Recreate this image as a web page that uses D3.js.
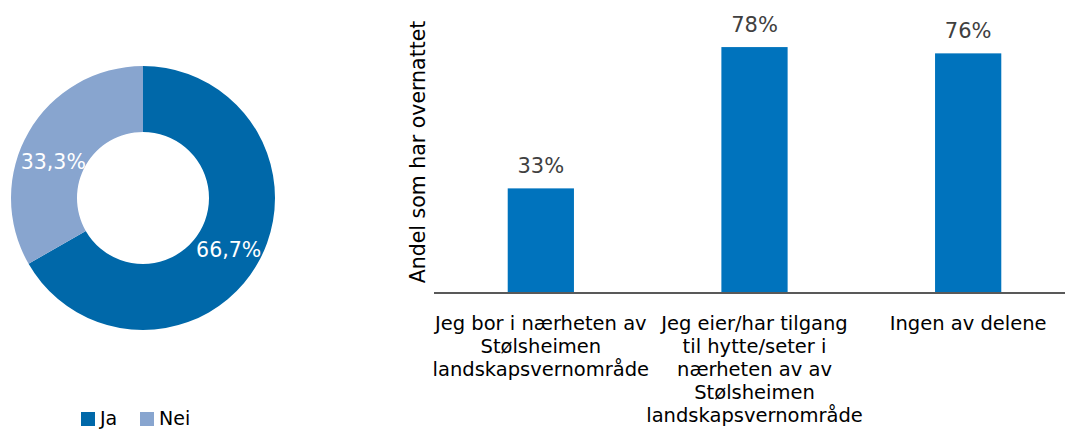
<!DOCTYPE html>
<html>
<head>
<meta charset="utf-8">
<script src="https://cdn.jsdelivr.net/npm/d3@7"></script>
<style>
  body { margin: 0; background: #fff; }
  svg { display: block; font-family: "DejaVu Sans", sans-serif; }
</style>
</head>
<body>
<svg id="chart" width="1065" height="432"></svg>
<script>
// donut data
const pieLabels = ["Ja", "Nei"];
const pieValues = [66.7, 33.3];
const pieColors = ["#0068a9", "#88a5cf"];

// bar data
const barCategories = [
    ["Jeg bor i nærheten av", "Stølsheimen", "landskapsvernområde"],
    ["Jeg eier/har tilgang", "til hytte/seter i", "nærheten av av", "Stølsheimen", "landskapsvernområde"],
    ["Ingen av delene"]
];
const barValues = [0.33, 0.78, 0.76];
const barLabels = ["33%", "78%", "76%"];
const yTitle = "Andel som har overnattet";

const svg = d3.select("#chart");

// ---- donut ----
const cx = 143, cy = 198, outerR = 132, innerR = 66;

const pie = d3.pie().sort(null).value(d => d);
const arc = d3.arc().innerRadius(innerR).outerRadius(outerR);

const donut = svg.append("g")
    .attr("transform", `translate(${cx},${cy})`);

const arcs = pie(pieValues);

donut.selectAll("path")
    .data(arcs)
    .join("path")
    .attr("d", arc)
    .attr("fill", (d, i) => pieColors[i]);

// labels sit at the ring centroid, nudged a bit like Excel does
const labelNudge = [[0, 2], [-4, 13]];
donut.selectAll("text")
    .data(arcs)
    .join("text")
    .attr("x", (d, i) => arc.centroid(d)[0] + labelNudge[i][0])
    .attr("y", (d, i) => arc.centroid(d)[1] + labelNudge[i][1])
    .attr("text-anchor", "middle")
    .attr("dy", "0.35em")
    .attr("fill", "#fff")
    .style("font-size", "20.5px")
    .text(d => d.data.toFixed(1).replace(".", ",") + "%");

// legend
const legend = svg.append("g").attr("transform", "translate(81,412)");
const legendX = [0, 59];
pieLabels.forEach((lab, i) => {
    const g = legend.append("g").attr("transform", `translate(${legendX[i]},0)`);
    g.append("rect").attr("width", 14).attr("height", 14).attr("fill", pieColors[i]);
    g.append("text")
        .attr("x", 19).attr("y", 13)
        .attr("fill", "#000")
        .style("font-size", "19px")
        .text(lab);
});

// ---- bars ----
const baseY = 292;
const x = d3.scaleBand()
    .domain(d3.range(barValues.length))
    .range([434, 1075])
    .paddingInner(0.69)
    .paddingOuter(0.345);

const y = d3.scaleLinear()
    .domain([0, 0.9])
    .range([baseY, baseY - 0.9 * 314]);

const bars = svg.append("g");

bars.selectAll("rect")
    .data(barValues)
    .join("rect")
    .attr("x", (d, i) => x(i))
    .attr("y", d => y(d))
    .attr("width", x.bandwidth())
    .attr("height", d => baseY - y(d))
    .attr("fill", "#0073bd");

bars.selectAll("text.val")
    .data(barValues)
    .join("text")
    .attr("class", "val")
    .attr("x", (d, i) => x(i) + x.bandwidth() / 2)
    .attr("y", d => y(d) - 15)
    .attr("text-anchor", "middle")
    .attr("fill", "#404040")
    .style("font-size", "21px")
    .text((d, i) => barLabels[i]);

// x axis line
svg.append("line")
    .attr("x1", 434).attr("x2", 1065)
    .attr("y1", baseY + 1).attr("y2", baseY + 1)
    .attr("stroke", "#595959")
    .attr("stroke-width", 2);

// category labels
const catG = svg.append("g");
barCategories.forEach((lines, i) => {
    const t = catG.append("text")
        .attr("text-anchor", "middle")
        .attr("fill", "#000")
        .style("font-size", "19.5px");
    lines.forEach((ln, j) => {
        t.append("tspan")
            .attr("x", x(i) + x.bandwidth() / 2)
            .attr("y", 330 + j * 23)
            .text(ln);
    });
});

// y title
svg.append("text")
    .attr("transform", "translate(425,152) rotate(-90)")
    .attr("text-anchor", "middle")
    .attr("fill", "#000")
    .style("font-size", "20.5px")
    .text(yTitle);
</script>
</body>
</html>
